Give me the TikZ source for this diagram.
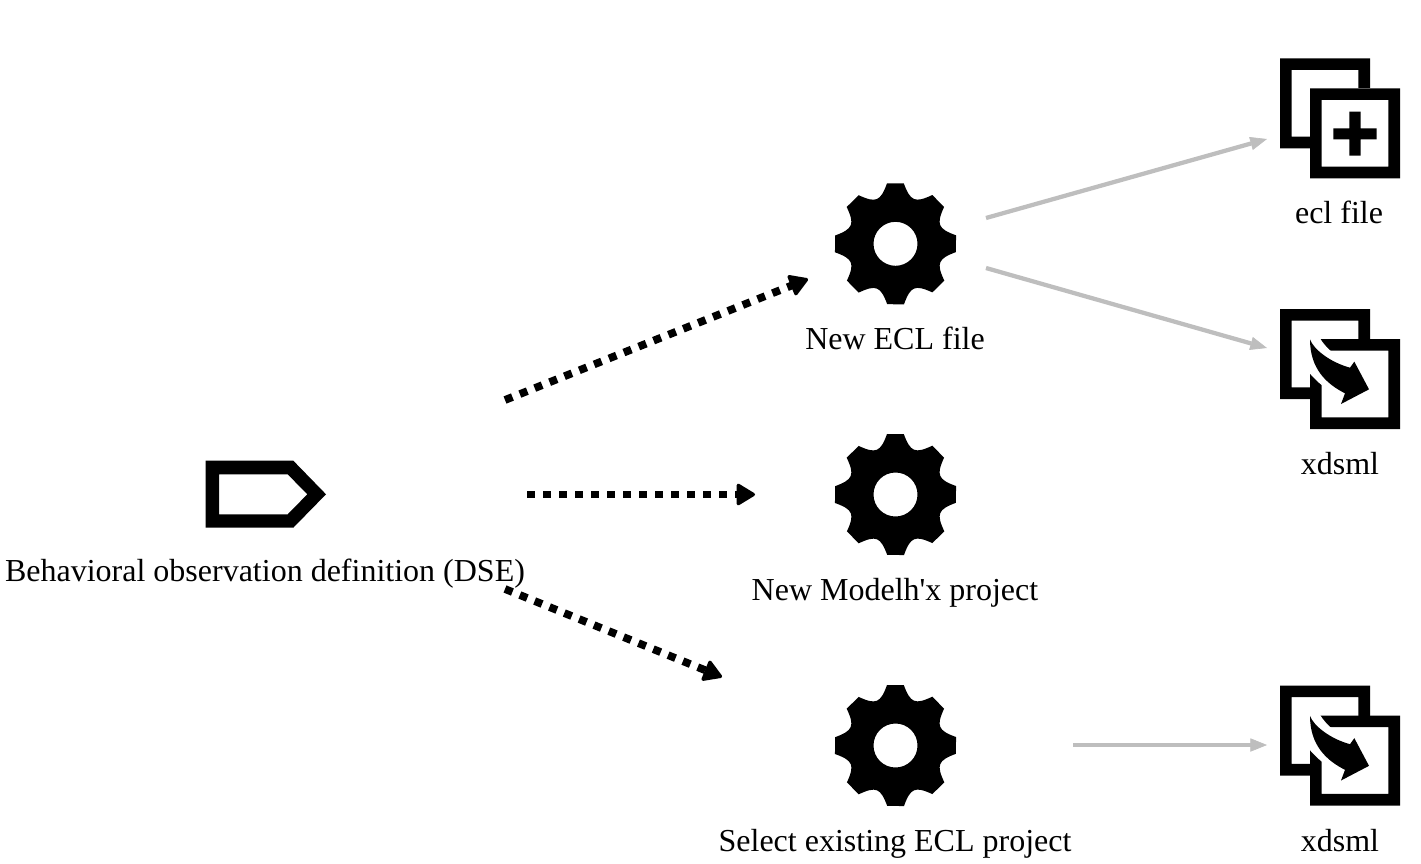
\documentclass[tikz,border=0pt]{standalone}
\usepackage{fontspec}
\setmainfont{Liberation Serif}
\usetikzlibrary{arrows.meta}
\definecolor{flowgray}{HTML}{BEBEBE}
\tikzset{
  x=0.75pt,y=-0.75pt,
  lbl/.style={font=\fontsize{24pt}{28pt}\selectfont,anchor=base,inner sep=0pt},
  dep/.style={line width=5.8pt,dash pattern=on 6pt off 6pt,
    -{Triangle[round,length=15pt,width=17.5pt,line width=2.5pt,sep=0pt]}},
  flow/.style={line width=3.2pt,color=flowgray,line cap=butt,
    -{Triangle[length=12.5pt,width=10pt,line width=.5pt]}},
  gear/.pic={
    \fill[black,even odd rule] (-8.3,-60.4)
      \foreach \a in {0,-45,-90,-135,-180,-225,-270,-315}{
        -- ([rotate=\a]8.3,-60.4)
        .. controls ([rotate=\a]14.95,-42.5) and ([rotate=\a]19.4,-40.6) .. ([rotate=\a]36.8,-48.8)
      } -- cycle (0,0) circle [radius=22];
  },
  twosquares/.pic={
    \begin{scope}[scale=1/3]
      \fill[black,even odd rule] (0,0) rectangle (270,270) (35,35) rectangle (235,235);
      \fill[white] (90,90) rectangle (360,360);
      \fill[black,even odd rule] (90,90) rectangle (360,360) (125,125) rectangle (325,325);
    \end{scope}
  },
  addicon/.pic={
    \pic {twosquares};
    \begin{scope}[scale=1/3]
      \fill[black] (160,210) rectangle (290,243) (208,160) rectangle (242,292);
    \end{scope}
  },
  swoopicon/.pic={
    \pic {twosquares};
    \begin{scope}[scale=1/3]
      \fill[white] (88,88) -- (120,88) .. controls (130,104) and (140,115) .. (150,124)
        -- (240,190) -- (240,270) -- (125,228) .. controls (112,218) and (100,205) .. (89,193) -- cycle;
      \fill[black] (90,91) .. controls (100,120) and (150,160) .. (210,176)
        -- (223,158) -- (267,241) -- (183,285) -- (195,253)
        .. controls (140,225) and (90,180) .. (90,91) -- cycle;
    \end{scope}
  }
}
\begin{document}
\begin{tikzpicture}
\useasboundingbox (0,0) rectangle (1421,864);
% tag icon
\fill[black,even odd rule] (205.7,460.7) -- (293.3,460.7) -- (326,494.3) -- (293.3,527.7) -- (205.7,527.7) -- cycle
  (219,474.3) -- (287.7,474.3) -- (307.3,494.3) -- (287.7,514.3) -- (219,514.3) -- cycle;
% gears
\pic at (895.5,243.8) {gear};
\pic at (895.5,494.5) {gear};
\pic at (895.5,745.5) {gear};
% squares
\pic at (1280,58.3) {addicon};
\pic at (1280,309) {swoopicon};
\pic at (1280,685.5) {swoopicon};
% labels
\node[lbl] (dse) at (265,581) {Behavioral observation definition (DSE)};
\node[lbl] (newecl) at (895,349) {New ECL file};
\node[lbl] (newmodel) at (895,600) {New Modelh\textquotesingle x project};
\node[lbl] (selecl) at (895,851) {Select existing ECL project};
\node[lbl] (eclfile) at (1339,223) {ecl file};
\node[lbl] (xdsmla) at (1340,474) {xdsml};
\node[lbl] (xdsmlb) at (1340,851) {xdsml};
% connector ends
\coordinate (s1) at (505,400); \coordinate (e1) at (808,279);
\coordinate (s2) at (527,494.5); \coordinate (e2) at (755,494.5);
\coordinate (s3) at (505,589); \coordinate (e3) at (722,677);
\coordinate (s4) at (986,218); \coordinate (e4) at (1267,139);
\coordinate (s5) at (986,268); \coordinate (e5) at (1267,348);
\coordinate (s6) at (1073,745); \coordinate (e6) at (1267,745);
\draw[dep] (s1) -- (e1);
\draw[dep] (s2) -- (e2);
\draw[dep] (s3) -- (e3);
\draw[flow] (s4) -- (e4);
\draw[flow] (s5) -- (e5);
\draw[flow] (s6) -- (e6);
\end{tikzpicture}
\end{document}
